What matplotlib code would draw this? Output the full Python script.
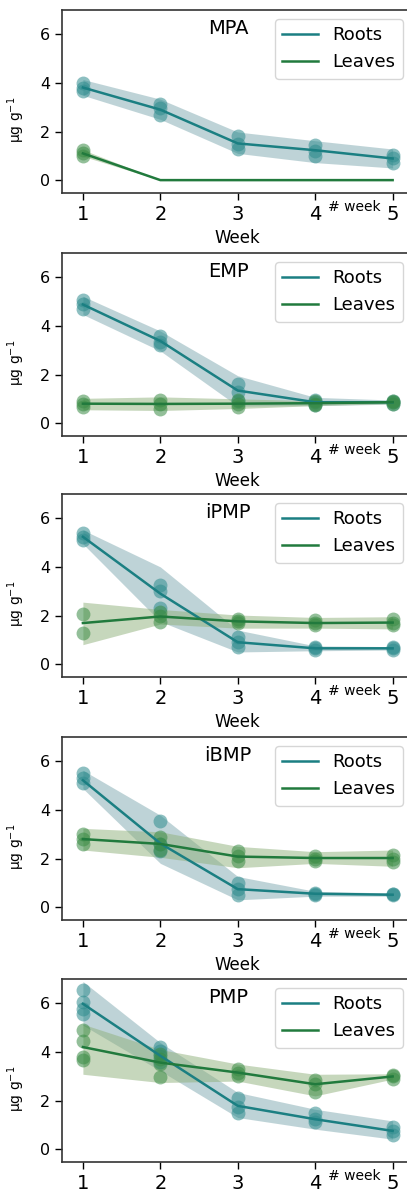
import numpy as np
import matplotlib.pyplot as plt
import matplotlib.transforms as mtransforms

weeks = [1, 2, 3, 4, 5]
compounds = ["MPA", "EMP", "iPMP", "iBMP", "PMP"]

# roots: mean line, band (low/high), replicate points
roots_mean = {
    "MPA": [3.81, 2.90, 1.51, 1.23, 0.89],
    "EMP": [4.88, 3.38, 1.34, 0.86, 0.86],
    "iPMP": [5.24, 2.90, 0.90, 0.65, 0.65],
    "iBMP": [5.22, 2.62, 0.74, 0.55, 0.51],
    "PMP": [5.98, 3.84, 1.78, 1.23, 0.75],
}
roots_lo = {
    "MPA": [3.49, 2.50, 1.10, 0.72, 0.50],
    "EMP": [4.47, 2.97, 0.70, 0.72, 0.78],
    "iPMP": [4.95, 1.75, 0.50, 0.55, 0.58],
    "iBMP": [4.88, 1.80, 0.30, 0.45, 0.45],
    "PMP": [5.10, 3.22, 1.30, 0.82, 0.41],
}
roots_hi = {
    "MPA": [4.14, 3.33, 1.98, 1.62, 1.28],
    "EMP": [5.22, 3.79, 1.95, 1.06, 0.95],
    "iPMP": [5.52, 4.00, 1.40, 0.75, 0.72],
    "iBMP": [5.63, 3.78, 1.26, 0.65, 0.58],
    "PMP": [6.90, 4.38, 2.33, 1.64, 1.16],
}
roots_pts = {
    "MPA": [[3.65, 3.8, 4.0], [2.7, 2.95, 3.15], [1.3, 1.5, 1.8], [1.0, 1.2, 1.45], [0.7, 0.9, 1.05]],
    "EMP": [[4.7, 4.9, 5.05], [3.2, 3.35, 3.6], [0.9, 1.3, 1.6], [0.75, 0.85, 0.95], [0.8, 0.85, 0.9]],
    "iPMP": [[5.1, 5.25, 5.4], [2.3, 3.0, 3.25], [0.7, 0.9, 1.1], [0.6, 0.65, 0.7], [0.6, 0.65, 0.7]],
    "iBMP": [[5.1, 5.3, 5.5], [2.3, 2.6, 3.55], [0.5, 0.75, 1.0], [0.5, 0.55, 0.6], [0.48, 0.52, 0.55]],
    "PMP": [[5.55, 5.75, 6.05, 6.55], [3.6, 3.85, 4.05, 4.2], [1.5, 1.75, 2.1], [1.1, 1.25, 1.5], [0.6, 0.75, 0.9]],
}

# leaves
leaves_mean = {
    "MPA": [1.10, 0.0, 0.0, 0.0, 0.0],
    "EMP": [0.80, 0.79, 0.80, 0.82, 0.86],
    "iPMP": [1.69, 1.96, 1.76, 1.69, 1.71],
    "iBMP": [2.80, 2.60, 2.08, 2.02, 2.02],
    "PMP": [4.20, 3.56, 3.15, 2.67, 2.99],
}
leaves_lo = {
    "MPA": [0.98, 0.0, 0.0, 0.0, 0.0],
    "EMP": [0.55, 0.52, 0.60, 0.72, 0.80],
    "iPMP": [0.80, 1.65, 1.48, 1.48, 1.45],
    "iBMP": [2.35, 2.05, 1.62, 1.80, 1.68],
    "PMP": [3.08, 2.74, 2.80, 2.19, 2.88],
}
leaves_hi = {
    "MPA": [1.25, 0.0, 0.0, 0.0, 0.0],
    "EMP": [1.02, 1.08, 1.00, 0.92, 0.92],
    "iPMP": [2.55, 2.25, 2.02, 1.92, 1.95],
    "iBMP": [3.24, 3.10, 2.50, 2.28, 2.35],
    "PMP": [5.14, 4.10, 3.50, 3.08, 3.10],
}
leaves_pts = {
    "MPA": [[1.0, 1.1, 1.25], [], [], [], []],
    "EMP": [[0.65, 0.8, 0.9], [0.6, 0.8, 0.95], [0.65, 0.8, 0.95], [0.75, 0.8, 0.9], [0.8, 0.85, 0.92]],
    "iPMP": [[1.3, 2.05], [1.75, 2.0, 2.15], [1.7, 1.78, 1.85], [1.6, 1.7, 1.8], [1.6, 1.7, 1.85]],
    "iBMP": [[2.6, 2.8, 3.0], [2.35, 2.6, 2.9], [1.9, 2.1, 2.3], [1.9, 2.0, 2.1], [1.85, 2.0, 2.15]],
    "PMP": [[3.65, 3.8, 4.45, 4.9], [2.95, 3.5, 3.7, 3.9], [3.0, 3.15, 3.3], [2.35, 2.7, 2.85], [2.9, 3.0, 3.05]],
}

root_col = "#1b7f82"
leaf_col = "#217a3d"

W, H = 407, 1189
tops = [10, 253, 494, 737, 979]
height = 183

fig = plt.figure(figsize=(W / 100, H / 100), dpi=100)

for i, name in enumerate(compounds):
    bot = tops[i] + height
    ax = fig.add_axes([62 / W, 1 - bot / H, 350 / W, height / H])

    # bands
    ax.fill_between(weeks, roots_lo[name], roots_hi[name], color="#7fa9b0", alpha=0.5, lw=0)
    ax.fill_between(weeks, leaves_lo[name], leaves_hi[name], color="#8fb07a", alpha=0.5, lw=0)

    # replicate points
    for w, pts in zip(weeks, roots_pts[name]):
        ax.scatter([w] * len(pts), pts, s=100, color="#2f8c8e", alpha=0.55, lw=0, zorder=3)
    for w, pts in zip(weeks, leaves_pts[name]):
        ax.scatter([w] * len(pts), pts, s=100, color="#3a8c45", alpha=0.55, lw=0, zorder=3)

    ax.plot(weeks, roots_mean[name], color=root_col, lw=1.8, label="Roots", zorder=4)
    ax.plot(weeks, leaves_mean[name], color=leaf_col, lw=1.8, label="Leaves", zorder=4)

    ax.set_xlim(0.73, 5.25)
    ax.set_ylim(-0.53, 7.0)
    ax.set_xticks(weeks)
    ax.set_yticks([0, 2, 4, 6])
    ax.tick_params(axis="x", labelsize=14, length=5, width=1)
    ax.tick_params(axis="y", labelsize=11.5, length=5, width=1)
    for sp in ax.spines.values():
        sp.set_color("#333333")
        sp.set_linewidth(1.2)

    # the last panel's "Week" falls off the bottom edge of the figure
    if i < len(compounds) - 1:
        ax.set_xlabel("Week", fontsize=12, labelpad=4)
    ax.set_ylabel("µg g$^{-1}$", fontsize=10)
    ax.yaxis.set_label_coords(-0.10, 0.40)

    ax.text(0.475, 0.90, name, transform=ax.transAxes, ha="center", va="center", fontsize=14)

    trans = mtransforms.blended_transform_factory(ax.transData, ax.transAxes)
    ax.text(4.51, -0.075, "# week", transform=trans, ha="center", va="center", fontsize=10)

    ax.legend(loc="upper right", fontsize=13, handlelength=2.0, borderaxespad=0.5)

fig.savefig("out.png", dpi=100)
